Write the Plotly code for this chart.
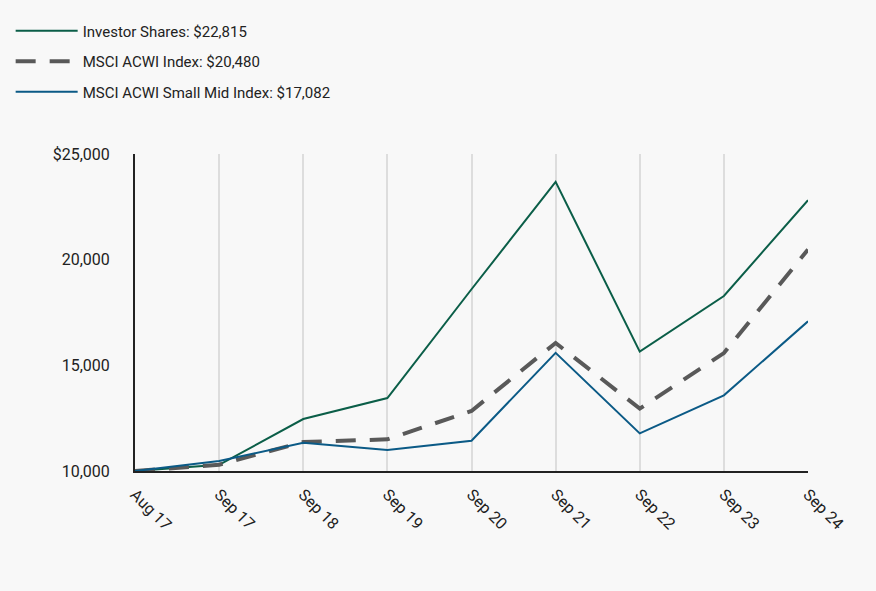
import plotly.graph_objects as go

categories = ["Aug 17", "Sep 17", "Sep 18", "Sep 19", "Sep 20", "Sep 21", "Sep 22", "Sep 23", "Sep 24"]
investor = [10000, 10290, 12460, 13450, 18600, 23680, 15650, 18280, 22815]
acwi = [10000, 10300, 11370, 11500, 12840, 16060, 12950, 15580, 20480]
smallmid = [10000, 10470, 11340, 10990, 11430, 15590, 11780, 13580, 17082]
names = ["Investor Shares: $22,815", "MSCI ACWI Index: $20,480", "MSCI ACWI Small Mid Index: $17,082"]
y_ticks = [10000, 15000, 20000, 25000]
y_labels = ["10,000", "15,000", "20,000", "$25,000"]

FONT = "Roboto, sans-serif"

fig = go.Figure()
fig.add_trace(go.Scatter(x=categories, y=investor, name=names[0], mode="lines",
                         line=dict(color="#0b5e48", width=2), legendgroup="a"))
fig.add_trace(go.Scatter(x=categories, y=acwi, name=names[1], mode="lines",
                         line=dict(color="#595959", width=4, dash="20px,14px"), legendgroup="b"))
fig.add_trace(go.Scatter(x=categories, y=smallmid, name=names[2], mode="lines",
                         line=dict(color="#0b5a86", width=2), legendgroup="c"))

fig.update_layout(
    width=876, height=591,
    paper_bgcolor="#f8f8f8", plot_bgcolor="#f8f8f8",
    margin=dict(l=134, r=68, t=154, b=120),
    font=dict(family=FONT, size=16, color="#222222"),
    showlegend=True,
    legend=dict(x=-0.183, y=1.44, xref="paper", yref="paper", xanchor="left", yanchor="top",
                itemwidth=62, tracegroupgap=8, traceorder="grouped",
                font=dict(family=FONT, size=15, color="#222222"),
                bgcolor="rgba(0,0,0,0)"),
    xaxis=dict(type="category", range=[0, 8], showgrid=True, gridcolor="#dddddd", gridwidth=2,
               showline=True, linecolor="#222222", linewidth=2, ticks="outside", ticklen=6,
               tickcolor="rgba(0,0,0,0)", tickangle=45,
               tickfont=dict(family=FONT, size=16, color="#222222"), zeroline=False),
    yaxis=dict(range=[10000, 25000], tickvals=y_ticks, ticktext=y_labels, showgrid=False,
               showline=True, linecolor="#222222", linewidth=2, ticks="outside", ticklen=20,
               tickcolor="rgba(0,0,0,0)", tickfont=dict(family=FONT, size=16, color="#222222"),
               zeroline=False),
)
fig.write_html("out.html", config={"displayModeBar": False},
               post_script="document.body.style.margin='0';document.body.style.background='#f8f8f8';")
